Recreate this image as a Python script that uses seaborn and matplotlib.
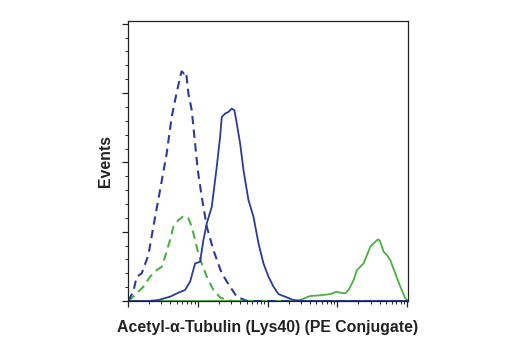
import numpy as np
import pandas as pd
import matplotlib
matplotlib.use("Agg")
import matplotlib.pyplot as plt
import seaborn as sns
from matplotlib.ticker import LogLocator, MultipleLocator, NullFormatter

# log10 fluorescence intensity and event counts
iso_blue_logx = [0.0, 0.076, 0.124, 0.196, 0.292, 0.363, 0.459, 0.554, 0.626, 0.674, 0.746, 0.769,
                 0.803, 0.832, 0.865, 0.913, 0.961, 0.999, 1.056, 1.128, 1.223, 1.343, 1.462,
                 1.558, 1.701, 4.01]
iso_blue_y = [0, 6.7, 17.5, 19.9, 33.1, 53.6, 80.0, 106.4, 132.8, 144.8, 161.6, 165.7,
              164.0, 165.2, 149.6, 137.6, 113.6, 94.4, 75.2, 53.6, 36.7, 19.9, 10.3,
              3.1, 0, 0]

ab_blue_logx = [0.0, 0.292, 0.435, 0.602, 0.722, 0.817, 0.889, 0.961, 1.032, 1.080, 1.128, 1.200,
                1.271, 1.319, 1.343, 1.391, 1.438, 1.486, 1.524, 1.558, 1.606, 1.654, 1.725,
                1.797, 1.869, 1.940, 2.012, 2.084, 2.155, 2.275, 2.370, 2.514, 4.01]
ab_blue_y = [0, 0, 0.7, 3.1, 6.0, 7.9, 13.9, 27.1, 28.3, 43.9, 56.0, 68.0,
             96.8, 118.4, 132.8, 135.2, 136.4, 138.8, 137.6, 128.0, 113.6, 94.4, 72.8,
             60.8, 41.5, 27.1, 17.5, 10.3, 5.0, 2.6, 0.7, 0, 0]

iso_green_logx = [0.0, 0.076, 0.148, 0.220, 0.315, 0.411, 0.483, 0.530, 0.602, 0.650, 0.722, 0.784,
                  0.817, 0.865, 0.913, 0.961, 1.008, 1.056, 1.128, 1.223, 1.319, 1.414, 1.510, 4.01]
iso_green_y = [0, 3.1, 6.7, 10.3, 17.5, 22.3, 24.7, 31.9, 43.9, 53.6, 58.4, 60.8,
               61.5, 59.6, 53.6, 43.9, 34.3, 27.1, 17.5, 7.9, 2.6, 0.7, 0, 0]

ab_green_logx = [0.0, 2.418, 2.466, 2.609, 2.753, 2.896, 2.991, 3.039, 3.111, 3.159, 3.231, 3.278,
                 3.374, 3.422, 3.470, 3.517, 3.565, 3.589, 3.613, 3.661, 3.708, 3.756, 3.828,
                 3.900, 3.971, 4.01]
ab_green_y = [0, 0, 0.7, 3.6, 4.1, 5.0, 6.7, 6.0, 5.5, 7.9, 15.1, 22.3,
              27.1, 33.1, 39.1, 41.5, 43.9, 44.4, 42.7, 35.5, 33.1, 29.5, 19.9,
              10.3, 1.9, 0]

x_label = "Acetyl-α-Tubulin (Lys40) (PE Conjugate)"
y_label = "Events"

sns.set_style("ticks")
plt.rcParams['font.family'] = ['Liberation Sans', 'DejaVu Sans']

BLUE = "#2b3b97"
GREEN = "#4cb040"

fig = plt.figure(figsize=(5.2, 3.5), dpi=100)
ax = fig.add_axes([128/520, 1-301/350, 280/520, 280/350])

series = [
    (ab_green_logx, ab_green_y, GREEN, "-"),
    (iso_green_logx, iso_green_y, GREEN, "--"),
    (iso_blue_logx, iso_blue_y, BLUE, "--"),
    (ab_blue_logx, ab_blue_y, BLUE, "-"),
]
for lx, yv, col, ls in series:
    df = pd.DataFrame({"x": 10 ** np.array(lx), "y": yv})
    sns.lineplot(data=df, x="x", y="y", ax=ax, color=col, linewidth=1.3,
                 sort=False, estimator=None)
    l = ax.get_lines()[-1]
    if ls == "--":
        l.set_linewidth(1.5)
        l.set_dashes([4, 2.6])

ax.set_xscale("log")
ax.set_xlim(1, 10 ** 4.01)
ax.set_ylim(0, 202)
ax.xaxis.set_major_locator(LogLocator(base=10, numticks=10))
ax.xaxis.set_minor_locator(LogLocator(base=10, subs=np.arange(2, 10), numticks=20))
ax.xaxis.set_major_formatter(NullFormatter())
ax.xaxis.set_minor_formatter(NullFormatter())
ax.yaxis.set_major_locator(MultipleLocator(50))
ax.yaxis.set_minor_locator(MultipleLocator(10))
ax.yaxis.set_major_formatter(NullFormatter())

for s in ax.spines.values():
    s.set_visible(True)
    s.set_linewidth(0.9)
    s.set_color("#222222")
ax.tick_params(which="major", length=4, width=0.9, color="#222222", direction="out")
ax.tick_params(which="minor", length=2.2, width=0.7, color="#222222", direction="out")

ax.set_xlabel(x_label, fontsize=11.4, fontweight="bold", color="#222222", labelpad=6)
ax.set_ylabel(y_label, fontsize=11.4, fontweight="bold", color="#222222", labelpad=3)

fig.savefig("out.png", dpi=100)
